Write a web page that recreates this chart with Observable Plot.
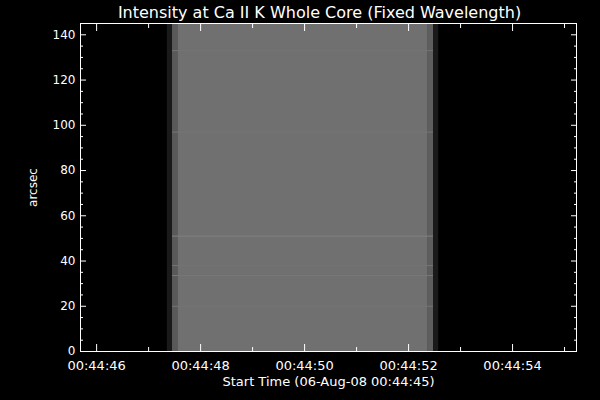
<!DOCTYPE html>
<html>
<head>
<meta charset="utf-8">
<script src="https://cdn.jsdelivr.net/npm/d3@7"></script>
<script src="https://cdn.jsdelivr.net/npm/@observablehq/plot@0.6"></script>
<style>
  html, body { margin: 0; padding: 0; background: #000; }
  #chart svg { display: block; }
</style>
</head>
<body>
<div id="chart"></div>
<script>
// Time axis: seconds after 00:44:00
const xDomain = [45.69, 55.23];
const yDomain = [0, 145];
const xMajorTicks = [46, 48, 50, 52, 54];
const xMinorTicks = [46, 47, 48, 49, 50, 51, 52, 53, 54, 55];
const yMajorTicks = [0, 20, 40, 60, 80, 100, 120, 140];
const yMinorTicks = d3.range(0, 146, 5);

// Raster columns (exposure time bins) and their intensity (0..1)
const colStart = [47.36, 47.46, 47.56, 52.38, 52.48];
const colEnd   = [47.46, 47.56, 52.38, 52.48, 52.58];
const colIntensity = [0.10, 0.35, 0.44, 0.37, 0.10];

// Faint horizontal striations in the raster
const stripeY = [133, 97, 51, 38, 33.6, 20];
const stripeIntensity = [0.455, 0.46, 0.5, 0.455, 0.47, 0.455];

const columns = colStart.map((s, i) => ({x1: s, x2: colEnd[i], v: colIntensity[i]}));
const stripes = stripeY.map((y, i) => ({y, v: stripeIntensity[i]}));

const font = "DejaVu Sans";
const fmt = d => `00:44:${String(d).padStart(2, "0")}`;
const none = () => "";

const chart = Plot.plot({
  width: 600,
  height: 400,
  marginLeft: 80,
  marginRight: 24,
  marginTop: 23,
  marginBottom: 49,
  style: {background: "#000", color: "#fff", fontFamily: font, fontSize: "13px"},
  x: {domain: xDomain, label: null},
  y: {domain: yDomain, label: null},
  color: {type: "linear", domain: [0, 1], range: ["#000", "#fff"]},
  marks: [
    Plot.rect(columns, {x1: "x1", x2: "x2", y1: yDomain[0], y2: yDomain[1], fill: "v"}),
    Plot.ruleY(stripes, {y: "y", x1: colStart[1], x2: colEnd[3], stroke: "v", strokeWidth: 1}),
    Plot.frame({stroke: "#fff", strokeWidth: 1}),
    // bottom axis
    Plot.axisX({anchor: "bottom", ticks: xMajorTicks, tickSize: -7, tickFormat: none, stroke: "#fff"}),
    Plot.axisX({anchor: "bottom", ticks: xMinorTicks.filter(d => !xMajorTicks.includes(d)), tickSize: -4, tickFormat: none, stroke: "#fff"}),
    Plot.axisX({anchor: "bottom", ticks: xMajorTicks, tickSize: 0, tickPadding: 9, tickFormat: fmt, fill: "#fff", fontSize: 13,
      label: "Start Time (06-Aug-08 00:44:45)", labelAnchor: "center", labelOffset: 34, labelArrow: "none"}),
    // top axis
    Plot.axisX({anchor: "top", ticks: xMajorTicks, tickSize: -7, tickFormat: none, stroke: "#fff", label: null}),
    Plot.axisX({anchor: "top", ticks: xMinorTicks.filter(d => !xMajorTicks.includes(d)), tickSize: -4, tickFormat: none, stroke: "#fff", label: null}),
    // left axis
    Plot.axisY({anchor: "left", ticks: yMajorTicks, tickSize: -6, tickFormat: none, stroke: "#fff"}),
    Plot.axisY({anchor: "left", ticks: yMinorTicks.filter(d => !yMajorTicks.includes(d)), tickSize: -3, tickFormat: none, stroke: "#fff"}),
    Plot.axisY({anchor: "left", ticks: yMajorTicks, tickSize: 0, tickPadding: 5, fill: "#fff", fontSize: 12,
      label: "arcsec", labelAnchor: "center", labelOffset: 52, labelArrow: "none"}),
    // right axis
    Plot.axisY({anchor: "right", ticks: yMajorTicks, tickSize: -6, tickFormat: none, stroke: "#fff", label: null}),
    Plot.axisY({anchor: "right", ticks: yMinorTicks.filter(d => !yMajorTicks.includes(d)), tickSize: -3, tickFormat: none, stroke: "#fff", label: null}),
    // title
    Plot.text(["Intensity at Ca II K Whole Core (Fixed Wavelength)"], {frameAnchor: "top", lineAnchor: "middle", dy: -11, dx: -9, fill: "#fff", fontSize: 16})
  ]
});
document.getElementById("chart").appendChild(chart);
</script>
</body>
</html>
